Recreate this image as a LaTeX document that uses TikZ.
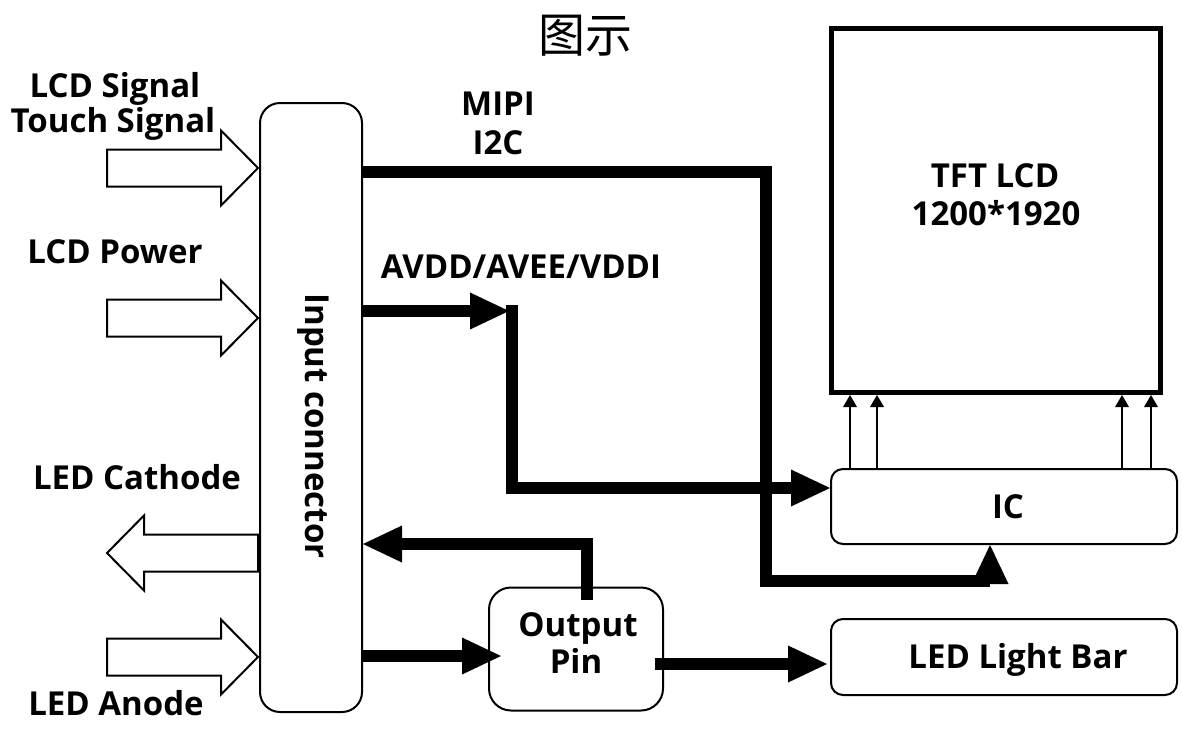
\documentclass[tikz,border=0pt]{standalone}
\usepackage{fontspec}
\setmainfont{Open Sans}
\newfontfamily\cjkfont{Noto Sans CJK SC}
\usetikzlibrary{arrows.meta}
\begin{document}
\begin{tikzpicture}[x=1pt,y=-1pt,
  lbl/.style={font=\fontsize{33}{38}\selectfont\bfseries, inner sep=0pt, anchor=base},
  box/.style={draw, line width=2pt, rounded corners=#1, fill=white, inner sep=0pt},
  box/.default=12pt,
  wire/.style={line width=12pt, line join=miter},
  bigtip/.style={-{Triangle[length=39pt,width=37pt,line width=0pt 0 0]}},
  thintip/.style={line width=2.5pt, -{Triangle[length=12pt,width=14pt,line width=0pt 0 0]}},
  hollow/.pic={\draw[line width=2pt, fill=white, line join=miter]
      (0,-18.5) -- (114,-18.5) -- (114,-37.5) -- (151,0) -- (114,37.5) -- (114,18.5) -- (0,18.5) -- cycle;}
]
\useasboundingbox (0,0) rectangle (1182,731);

% title
\node[inner sep=0pt, font=\cjkfont\fontsize{47}{50}\selectfont] (title) at (585,36) {图示};

% boxes
\node[box=20pt, minimum width=102pt, minimum height=609pt] (conn) at (311,407.5) {};
\node[lbl, anchor=center, rotate=-90] (conntext) at (313,426) {Input connector};

\node[draw, line width=5pt, minimum width=329pt, minimum height=364pt, inner sep=0pt] (tft) at (995.5,210.5) {};
\node[lbl] (tft1) at (995,187) {TFT LCD};
\node[lbl] (tft2) at (996,225) {1200*1920};

\node[box=12pt, minimum width=346pt, minimum height=75pt] (ic) at (1004,506.5) {};
\node[lbl] (ictext) at (1008,518) {IC};

\node[box=12pt, minimum width=346pt, minimum height=76pt] (led) at (1004,657) {};
\node[lbl] (ledtext) at (1018,668) {LED Light Bar};

\node[box=22pt, minimum width=174pt, minimum height=123pt] (outpin) at (576,649) {};
\node[lbl] (out1) at (578,636) {Output};
\node[lbl] (out2) at (576,673) {Pin};

% hollow arrows
\pic at (107,168) {hollow};
\pic at (107,318) {hollow};
\pic[rotate=180] at (258,553) {hollow};
\pic at (107,657) {hollow};

% left labels
\node[lbl] (l1) at (115,97) {LCD Signal};
\node[lbl] (l2) at (113,132) {Touch Signal};
\node[lbl] (l3) at (115,263) {LCD Power};
\node[lbl] (l4) at (137,489) {LED Cathode};
\node[lbl] (l5) at (116,715) {LED Anode};

% wire labels
\node[lbl] (mipi) at (498,115) {MIPI};
\node[lbl] (i2c) at (498,154) {I2C};
\node[lbl] (avdd) at (521,278) {AVDD/AVEE/VDDI};

% thick connectors
\coordinate (avc) at (509,311);
\draw[wire, bigtip] (conn.east |- 0,172) -- (766,172) -- (766,581) -| ([xshift=-14pt]ic.south);
\draw[wire, bigtip] (conn.east |- 0,311) -- (avc);
\draw[wire, bigtip] ([xshift=3pt,yshift=6pt]avc) -- (512,488) -- (ic.west |- 0,488);
\draw[wire, bigtip] (587,600) -- (587,544) -- (conn.east |- 0,544);
\draw[wire, bigtip] (conn.east |- 0,656) -- ([xshift=13pt]outpin.west |- 0,656);
\draw[wire, bigtip] (655,664) -- ([xshift=-3pt]led.west |- 0,664);

% thin arrows IC -> TFT
\foreach \xx in {850,877,1122,1151}
  \draw[thintip] (ic.north -| \xx,0) -- (tft.south -| \xx,0);
\end{tikzpicture}
\end{document}
